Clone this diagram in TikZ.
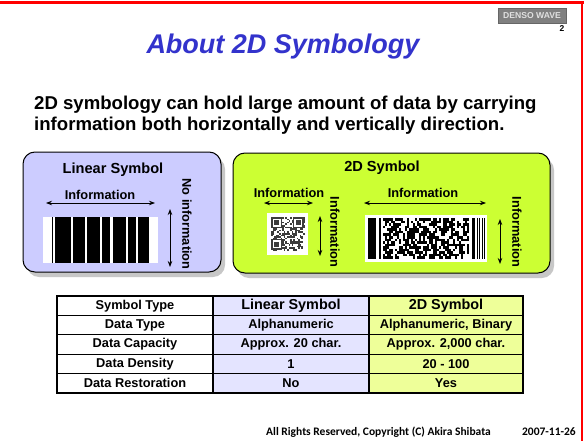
\documentclass[tikz,border=0pt]{standalone}
\usepackage{fontspec}
\setmainfont{Liberation Sans}
\newfontfamily\calib{Carlito}
\usetikzlibrary{arrows.meta}
\definecolor{titleblue}{RGB}{51,51,204}
\definecolor{lavbox}{RGB}{204,204,255}
\definecolor{limebox}{RGB}{204,255,51}
\definecolor{lavcell}{RGB}{228,228,255}
\definecolor{limecell}{RGB}{238,255,153}
\definecolor{qrc}{RGB}{60,60,60}
\begin{document}
\begin{tikzpicture}[x=1pt,y=-1pt,
  boxlbl/.style={font=\bfseries\fontsize{14.6}{16}\selectfont, inner sep=0pt},
  info/.style={font=\bfseries\fontsize{12.8}{14}\selectfont, inner sep=0pt},
  dblarrow/.style={{Stealth[length=6pt,width=4.5pt]}-{Stealth[length=6pt,width=4.5pt]}, line width=0.9pt},
  panel/.style={draw=black, line width=1pt, rounded corners=12pt},
  shadowbox/.style={fill=black!22, rounded corners=12pt},
  celltxt/.style={font=\bfseries\fontsize{12.8}{14}\selectfont, inner sep=0pt},
  headtxt/.style={font=\bfseries\fontsize{14.4}{16}\selectfont, inner sep=0pt},
  bar/.style={fill=black}
]
\useasboundingbox (0,0) rectangle (585,441);
\fill[white] (0,0) rectangle (585,441);
% red frame
\draw[red, line width=3pt] (0,3) -- (583.5,3);
\draw[red, line width=2.5pt] (582.2,1.5) -- (582.2,441);

% header tag
\node[fill=black!50, draw=black!60, line width=0.4pt, minimum width=68pt, minimum height=15pt, inner sep=0pt,
      text=black!12, font=\bfseries\fontsize{8.6}{9}\selectfont] (tag) at (532,15.5) {DENSO WAVE};
\node[font=\bfseries\fontsize{8.5}{9}\selectfont, inner sep=0pt] (pg) at (562,29) {2};

% title
\node[font=\bfseries\itshape\fontsize{27}{30}\selectfont, text=titleblue, inner sep=0pt] (title) at (283,47) {About 2D Symbology};

% subtitle
\node[anchor=base west, font=\bfseries\fontsize{18.6}{21}\selectfont, inner sep=0pt] (sub1) at (34,109)
  {2D symbology can hold large amount of data by carrying};
\node[anchor=base west, font=\bfseries\fontsize{18.6}{21}\selectfont, inner sep=0pt] (sub2) at (34,130)
  {information both horizontally and vertically direction.};

% ---------- Linear symbol panel ----------
\fill[shadowbox] (27,157) rectangle (225,277);
\filldraw[panel, fill=lavbox] (23,152) rectangle (221,272);
\node[boxlbl] (linT) at (113,170) {Linear Symbol};
\node[info] (linInfo) at (100,195) {Information};
\coordinate (la1) at (46,203);
\coordinate (la2) at (155,203);
\draw[dblarrow] (la1) -- (la2);
\fill[white] (43,217) rectangle (158,263);
\foreach \a/\b in {52/53, 54.5/71, 73/85, 87/100, 102/110, 112.5/126, 128/136, 138/149}
  \fill[bar] (\a,217) rectangle (\b,263);
\coordinate (lv1) at (170,209);
\coordinate (lv2) at (170,267);
\draw[dblarrow] (lv1) -- (lv2);
\node[info, rotate=-90] (noinfo) at (187,224) {No information};

% ---------- 2D symbol panel ----------
\fill[shadowbox] (237,158) rectangle (554,278);
\filldraw[panel, fill=limebox] (233,153) rectangle (550,273);
\node[boxlbl] (twoT) at (382,168) {2D Symbol};
\node[info] (qrInfo) at (289,193) {Information};
\coordinate (qa1) at (264,203);
\coordinate (qa2) at (313,203);
\draw[dblarrow] (qa1) -- (qa2);
% QR code
\fill[white] (267,213) rectangle (308,255);
\pgfmathsetseed{11}
\foreach \i in {0,...,20}{
  \foreach \j in {0,...,20}{
    \pgfmathrandominteger{\r}{0}{1}
    \ifnum\r=1 \fill[qrc] (271+\i*1.6,217+\j*1.6) rectangle ++(1.6,1.6); \fi
  }
}
\foreach \ox/\oy in {271/217, 292.8/217, 271/238.8}{
  \fill[qrc] (\ox,\oy) rectangle ++(11.2,11.2);
  \fill[white] (\ox+1.6,\oy+1.6) rectangle ++(8,8);
  \fill[qrc] (\ox+3.2,\oy+3.2) rectangle ++(4.8,4.8);
}
\coordinate (qv1) at (320,216);
\coordinate (qv2) at (320,256);
\draw[dblarrow] (qv1) -- (qv2);
\node[info, rotate=-90] (qrVInfo) at (335,232) {Information};

% PDF417
\node[info] (pdfInfo) at (423,193) {Information};
\coordinate (pa1) at (364,203);
\coordinate (pa2) at (486,203);
\draw[dblarrow] (pa1) -- (pa2);
\fill[white] (365,215) rectangle (487,262);
\fill[bar] (368,218) rectangle (376,259);
\fill[bar] (379,218) rectangle (380.5,259);
\pgfmathsetseed{5}
\foreach \i in {0,...,42}{
  \foreach \j in {0,...,15}{
    \pgfmathrandominteger{\r}{0}{9}
    \ifnum\r<6 \fill[black] (383+\i*2,218+\j*2.5625) rectangle ++(2.05,2.6); \fi
  }
}
\foreach \a/\b in {472/475, 476.5/477.5, 479/480, 481.5/482.5, 483.5/484.5}
  \fill[bar] (\a,218) rectangle (\b,259);
\coordinate (pv1) at (500,219);
\coordinate (pv2) at (500,264);
\draw[dblarrow] (pv1) -- (pv2);
\node[info, rotate=-90] (pdfVInfo) at (517,232) {Information};

% ---------- Table ----------
\def\ya{296}\def\yb{315.4}\def\yc{334.8}\def\yd{354.2}\def\ye{373.6}\def\yf{393}
\fill[white] (57,\ya) rectangle (213,\yf);
\fill[lavcell] (213,\ya) rectangle (369,\yf);
\fill[limecell] (369,\ya) rectangle (523,\yf);
\foreach \y in {\yb,\yc,\yd,\ye}
  \draw[line width=1.3pt] (57,\y) -- (523,\y);
\draw[line width=1.3pt] (213,\ya) -- (213,\yf);
\draw[line width=1.3pt] (369,\ya) -- (369,\yf);
\draw[line width=1.7pt] (57,\ya) rectangle (523,\yf);

\node[celltxt] (r1c1) at (135,305.7) {Symbol Type};
\node[headtxt] (r1c2) at (291,306.2) {Linear Symbol};
\node[headtxt] (r1c3) at (446,306.2) {2D Symbol};
\node[celltxt] (r2c1) at (135,325.1) {Data Type};
\node[celltxt] (r2c2) at (291,325.1) {Alphanumeric};
\node[celltxt] (r2c3) at (446,325.1) {Alphanumeric, Binary};
\node[celltxt] (r3c1) at (135,344.5) {Data Capacity};
\node[celltxt] (r3c2) at (291,344.5) {Approx. 20 char.};
\node[celltxt] (r3c3) at (446,344.5) {Approx. 2,000 char.};
\node[celltxt] (r4c1) at (135,363.9) {Data Density};
\node[celltxt] (r4c2) at (291,363.9) {1};
\node[celltxt] (r4c3) at (446,363.9) {20 - 100};
\node[celltxt] (r5c1) at (135,383.3) {Data Restoration};
\node[celltxt] (r5c2) at (291,383.3) {No};
\node[celltxt] (r5c3) at (446,383.3) {Yes};

% footer
\node[anchor=base west, font=\calib\bfseries\fontsize{11.5}{13}\selectfont, inner sep=0pt] (copy) at (266,435)
  {All Rights Reserved, Copyright (C) Akira Shibata};
\node[anchor=base east, font=\calib\bfseries\fontsize{11.5}{13}\selectfont, inner sep=0pt] (date) at (576,435)
  {2007-11-26};
\end{tikzpicture}
\end{document}
